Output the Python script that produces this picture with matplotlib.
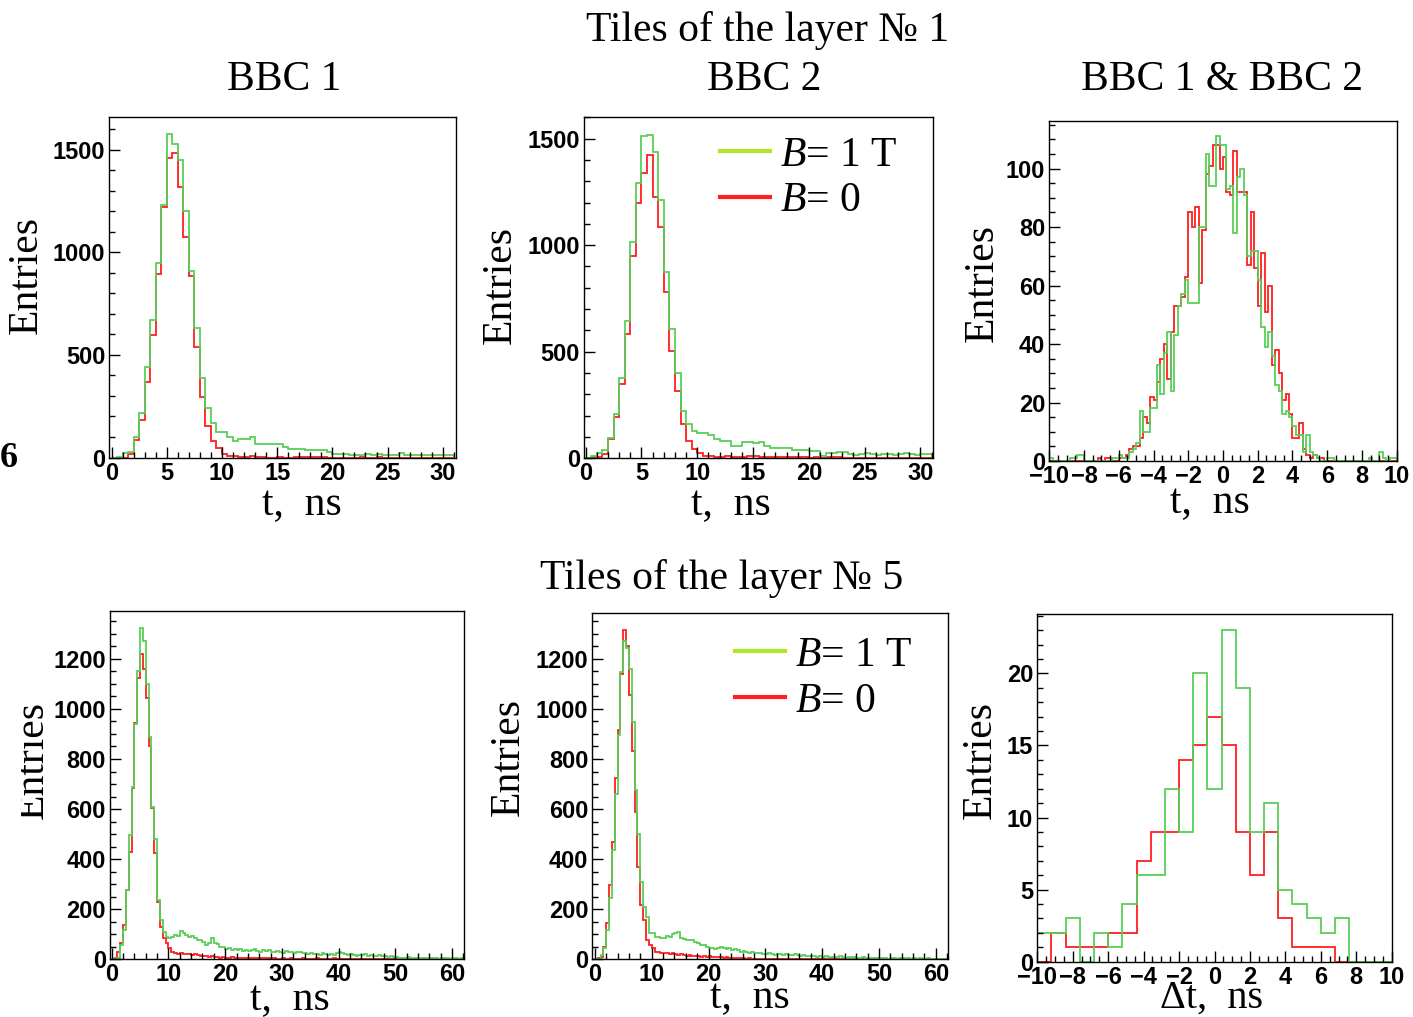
import numpy as np
import matplotlib
matplotlib.use("Agg")
import matplotlib.pyplot as plt
from matplotlib.lines import Line2D
from matplotlib.ticker import MultipleLocator
from matplotlib.transforms import Bbox

W, H = 1413, 1017
GREEN = "#58d058"
RED = "#ff1f1f"
LEG_GREEN = "#aee628"
SERIF = "Liberation Serif"
SANS = "Liberation Sans"

plt.rcParams["font.family"] = [SERIF, "DejaVu Serif"]
plt.rcParams["mathtext.fontset"] = "custom"
plt.rcParams["mathtext.it"] = "Liberation Serif:italic"
plt.rcParams["mathtext.rm"] = "Liberation Serif"

# ---- layer 1: time spectra, 0.5 ns bins on [0, 31) ----
l1_bbc1_b1 = [0, 3, 20, 29, 102, 216, 442, 668, 945, 1228, 1577, 1528, 1447, 1200, 907, 629,
              385, 239, 166, 125, 125, 98, 81, 89, 89, 98, 65, 65, 65, 65, 68, 52,
              41, 41, 41, 36, 36, 36, 36, 29, 16, 16, 16, 13, 13, 13, 16, 13,
              16, 10, 13, 13, 20, 13, 13, 10, 13, 10, 10, 13, 10, 10]
l1_bbc1_b0 = [0, 0, 0, 16, 86, 182, 366, 598, 894, 1220, 1460, 1483, 1320, 1076, 883, 537,
              296, 154, 78, 44, 16, 8, 5, 3, 3, 5, 3, 3, 0, 0, 3, 0,
              0, 3, 3, 3, 3, 3, 3, 0, 0, 0, 0, 0, 0, 3, 0, 0,
              3, 0, 0, 0, 0, 0, 0, 0, 0, 0, 0, 0, 0, 0]
l1_bbc2_b1 = [0, 10, 25, 40, 93, 210, 378, 642, 1014, 1294, 1512, 1519, 1438, 1212, 872, 609,
              402, 220, 160, 129, 118, 118, 109, 90, 83, 83, 56, 56, 75, 75, 70, 75,
              59, 47, 47, 47, 47, 39, 39, 39, 33, 33, 12, 25, 25, 28, 28, 20,
              17, 20, 23, 20, 17, 20, 20, 17, 20, 23, 20, 17, 20, 20]
l1_bbc2_b0 = [0, 5, 8, 20, 90, 192, 347, 581, 950, 1199, 1340, 1422, 1227, 1087, 779, 503,
              316, 160, 83, 44, 23, 12, 12, 8, 8, 12, 8, 8, 8, 12, 12, 8,
              5, 5, 8, 5, 5, 8, 5, 5, 3, 5, 3, 8, 5, 5, 3, 0,
              3, 0, 0, 3, 0, 0, 3, 0, 0, 0, 3, 0, 0, 0]

# ---- layer 1: BBC1 - BBC2 time difference, 0.2 ns bins on [-10, 10) ----
l1_diff_b1 = [1, 0, 0, 0, 0, 0, 1, 1, 2, 2,
              0, 0, 0, 0, 0, 0, 0, 0, 1, 1,
              2, 1, 1, 3, 4, 6, 17, 10, 10, 18,
              18, 33, 23, 37, 44, 24, 43, 53, 57, 62,
              54, 54, 54, 80, 80, 105, 94, 94, 111, 108,
              108, 93, 94, 78, 97, 100, 91, 70, 72, 72,
              62, 46, 39, 44, 36, 26, 24, 16, 17, 15,
              12, 9, 9, 3, 9, 3, 2, 1, 0, 0,
              1, 1, 0, 0, 0, 0, 0, 0, 0, 0,
              0, 0, 1, 0, 0, 3, 1, 0, 1, 1]
l1_diff_b0 = [0, 0, 0, 0, 0, 0, 0, 0, 0, 0,
              0, 0, 0, 0, 1, 0, 1, 1, 0, 0,
              1, 1, 2, 4, 5, 5, 8, 15, 13, 22,
              21, 27, 35, 40, 28, 44, 53, 53, 56, 63,
              85, 80, 87, 61, 79, 98, 101, 108, 108, 100,
              104, 92, 91, 106, 92, 92, 92, 67, 85, 66,
              53, 71, 51, 60, 33, 38, 30, 21, 23, 16,
              8, 8, 13, 4, 2, 1, 2, 1, 1, 0,
              0, 0, 0, 0, 0, 0, 0, 0, 0, 0,
              0, 0, 0, 0, 0, 0, 0, 0, 0, 0]

# ---- layer 5: time spectra, 0.5 ns bins on [0, 62) ----
l5_bbc1_b1 = [0, 0, 5, 57, 117, 277, 496, 689, 940, 1150, 1322, 1270, 1099, 888, 610, 480,
              237, 157, 110, 88, 84, 88, 97, 95, 113, 104, 97, 91, 95, 84, 77, 77,
              71, 57, 64, 87, 64, 60, 50, 48, 41,
              44, 38, 40, 36, 42, 35, 38, 33, 36, 40, 34, 30, 36, 33, 38, 30, 28, 33, 30, 26,
              32, 28, 30, 25, 28, 30, 24, 27, 22,
              25, 20, 22, 18, 24, 20, 17, 22, 19, 24, 30, 26, 20, 17, 21, 18, 15, 19, 16, 20,
              14, 17, 13, 15, 18, 12, 14, 10, 12, 9,
              8, 6, 7, 5, 8, 6, 4, 7, 5, 6, 4, 5, 7, 4, 5, 3, 6, 4, 5, 3, 4, 5, 3, 4]
l5_bbc1_b0 = [0, 5, 30, 64, 137, 277, 428, 683, 943, 1123, 1219, 1160, 1043, 850, 603, 424,
              230, 130, 87, 64, 44, 31, 24, 20, 24, 22, 20, 22, 18, 20, 18, 15,
              15, 12, 11, 12, 10, 11, 7, 8, 6,
              7, 8, 6, 7, 5, 6, 7, 5, 6, 5, 6, 4, 5, 4, 5, 3, 4, 3, 2, 4,
              3, 2, 4, 3, 3, 2, 4, 3, 2,
              3, 2, 4, 3, 2, 3, 2, 3, 4, 2, 3, 2, 3, 2, 3, 2, 3, 2, 1, 2,
              3, 1, 2, 1, 2, 1, 2, 1, 1, 2,
              1, 1, 2, 1, 0, 1, 1, 0, 1, 1, 0, 1, 0, 1, 1, 0, 1, 0, 0, 1, 0, 1, 0, 0]
l5_bbc2_b1 = [0, 3, 17, 44, 117, 244, 437, 659, 896, 1147, 1272, 1243, 1160, 947, 677, 500,
              310, 210, 170, 104, 104, 91, 91, 85, 85, 95, 91, 100, 104, 110, 85, 80,
              78, 77, 77, 70, 64, 57, 57, 50, 44, 44, 40, 44, 48, 44, 40, 44,
              36, 40, 36, 30, 33, 30, 27, 30, 24, 27, 24, 21, 20, 24, 20, 18,
              22, 20, 17, 20, 16, 18, 20, 17, 14, 16, 13, 15, 12, 14, 11, 13,
              10, 12, 9, 11, 10, 8, 12, 9, 7, 8, 6, 9, 7, 6, 8, 5,
              7, 5, 6, 4, 5, 4, 6, 3, 5, 4, 3, 5, 4, 3, 5, 2,
              4, 3, 4, 2, 3, 4, 2, 3, 2, 3, 2, 3]
l5_bbc2_b0 = [0, 5, 11, 50, 144, 297, 470, 723, 916, 1139, 1316, 1250, 1056, 830, 590, 370,
              217, 157, 77, 57, 44, 31, 31, 27, 24, 24, 20, 24, 20, 17, 20, 17,
              15, 17, 14, 12, 15, 11, 12, 10, 12, 9, 10, 8, 9, 7, 8, 6,
              7, 5, 6, 4, 5, 3, 4, 3, 2, 3, 2, 3, 2, 3, 2, 2,
              3, 2, 1, 2, 1, 2, 1, 0, 1, 1, 0, 1, 0, 1, 0, 0,
              1, 0, 0, 1, 0, 0, 0, 1, 0, 0, 0, 0, 1, 0, 0, 0,
              0, 0, 0, 0, 0, 0, 0, 0, 0, 0, 0, 0, 0, 0, 0, 0,
              0, 0, 0, 0, 0, 0, 0, 0, 0, 0, 0, 0]

# ---- layer 5: time difference, 0.8 ns bins on [-10, 10) ----
l5_diff_b1 = [2, 2, 3, 0, 2, 1, 4, 6, 6, 12, 9, 20, 12, 23, 19, 9, 11, 5, 4, 3, 2, 3, 0, 0, 0]
l5_diff_b0 = [0, 2, 1, 1, 1, 2, 2, 7, 9, 9, 14, 15, 17, 15, 9, 6, 9, 3, 1, 1, 1, 0, 0, 0, 0]

LEGEND_LABELS = [r"$B$= 1 T", r"$B$= 0"]


def px_box(left, right, top, bottom):
    return [left / W, 1 - bottom / H, (right - left) / W, (bottom - top) / H]


def hist_panel(fig, rect, lo, hi, green, red, xlim, ylim, xticks, yticks):
    ax = fig.add_axes(rect)
    edges = np.linspace(lo, hi, len(green) + 1)
    ax.stairs(red, edges, color=RED, lw=1.3)
    ax.stairs(green, edges, color=GREEN, lw=1.3)
    ax.set_xlim(*xlim)
    ax.set_ylim(0, ylim)
    ax.xaxis.set_major_locator(MultipleLocator(xticks[0]))
    ax.xaxis.set_minor_locator(MultipleLocator(xticks[1]))
    ax.yaxis.set_major_locator(MultipleLocator(yticks[0]))
    ax.yaxis.set_minor_locator(MultipleLocator(yticks[1]))
    ax.tick_params(which="both", direction="in", top=False, right=False,
                   width=1, colors="black")
    ax.tick_params(which="major", length=8)
    ax.tick_params(which="minor", length=4)
    ax.tick_params(axis="x", pad=3)
    ax.tick_params(axis="y", pad=3)
    for lab in ax.get_xticklabels() + ax.get_yticklabels():
        lab.set_fontfamily(SANS)
        lab.set_fontweight("bold")
        lab.set_fontsize(17)
    for sp in ax.spines.values():
        sp.set_linewidth(1.0)
        sp.set_color("black")
    return ax


def add_legend(ax, anchor):
    handles = [Line2D([], [], color=LEG_GREEN, lw=3), Line2D([], [], color=RED, lw=3)]
    ax.legend(handles, LEGEND_LABELS, loc="upper left", bbox_to_anchor=anchor,
              frameon=False, prop={"family": SERIF, "size": 30},
              handlelength=1.2, handletextpad=0.25, labelspacing=0.17,
              borderpad=0, borderaxespad=0)


def ftext(fig, x, y, s, **kw):
    kw.setdefault("fontsize", 30)
    return fig.text(x / W, 1 - y / H, s, ha="center", va="center", **kw)


fig = plt.figure(figsize=(W / 100, H / 100), dpi=100)

ax1 = hist_panel(fig, px_box(109.3, 456, 116.7, 457.5), 0, 31, l1_bbc1_b1, l1_bbc1_b0,
                 (-0.2, 31.2), 1660, (5, 1), (500, 100))
ax2 = hist_panel(fig, px_box(584, 932.7, 117.3, 458.3), 0, 31, l1_bbc2_b1, l1_bbc2_b0,
                 (-0.15, 31.1), 1600, (5, 1), (500, 100))
ax3 = hist_panel(fig, px_box(1049.3, 1396.7, 120.7, 461), -10, 10, l1_diff_b1, l1_diff_b0,
                 (-10, 10), 116.4, (2, 0.5), (20, 5))
ax4 = hist_panel(fig, px_box(110, 464, 611, 959.3), 0, 62, l5_bbc1_b1, l5_bbc1_b0,
                 (-0.3, 62.1), 1391, (10, 2), (200, 50))
ax5 = hist_panel(fig, px_box(592.3, 948.3, 613.3, 959.3), 0, 62, l5_bbc2_b1, l5_bbc2_b0,
                 (-0.45, 62.2), 1382, (10, 2), (200, 50))
ax6 = hist_panel(fig, px_box(1037.3, 1391.7, 614.3, 961.7), -10, 10, l5_diff_b1, l5_diff_b0,
                 (-10, 10), 24.1, (2, 0.5), (5, 1))

add_legend(ax2, (0.39, 0.945))
add_legend(ax5, (0.40, 0.933))

# headings
ftext(fig, 768, 30, "Tiles of the layer № 1")
ftext(fig, 284, 80, "BBC 1")
ftext(fig, 764, 80, "BBC 2")
ftext(fig, 1222, 80, "BBC 1 & BBC 2")
ftext(fig, 722, 578, "Tiles of the layer № 5")

# axis titles
ftext(fig, 302, 505, "t,  ns")
ftext(fig, 731, 505, "t,  ns")
ftext(fig, 1210, 503, "t,  ns")
ftext(fig, 290, 1000, "t,  ns")
ftext(fig, 750, 998, "t,  ns")
ftext(fig, 1212, 998, "Δt,  ns", fontsize=29)

ftext(fig, 27, 275, "Entries", rotation=90)
ftext(fig, 500, 285, "Entries", rotation=90)
ftext(fig, 983, 283, "Entries", rotation=90)
clipped = ftext(fig, 33, 760, "Entries", rotation=90)
clipped.set_clip_box(Bbox.from_extents(21, 0, W, H))
clipped.set_clip_on(True)
ftext(fig, 508, 757, "Entries", rotation=90)
ftext(fig, 980, 760, "Entries", rotation=90)

# page number fragment at the left margin
ftext(fig, 9, 458, "6", fontsize=26, fontweight="bold")

fig.savefig("out.png", dpi=100, facecolor="white")
